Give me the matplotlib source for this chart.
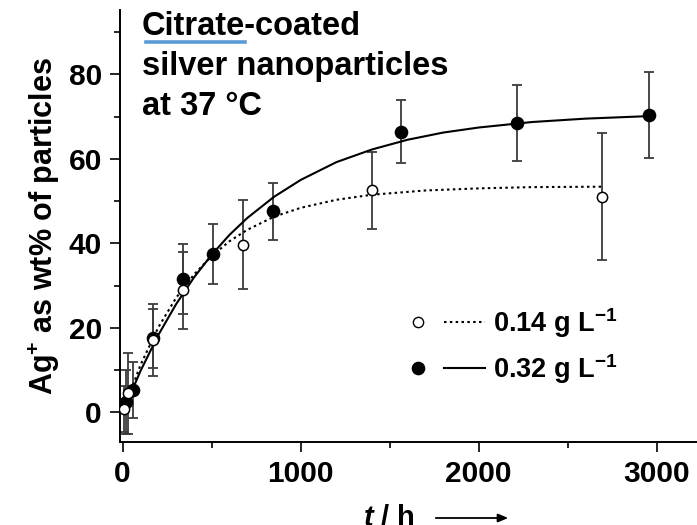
import matplotlib
matplotlib.use('Agg')
import matplotlib.pyplot as plt
from matplotlib.lines import Line2D
from matplotlib.patches import FancyArrowPatch
from matplotlib.legend_handler import HandlerTuple

plt.rcParams['font.family'] = ['Liberation Sans', 'DejaVu Sans']
plt.rcParams['font.weight'] = 'bold'
plt.rcParams['mathtext.fontset'] = 'custom'
plt.rcParams['mathtext.rm'] = 'Liberation Sans:bold'
plt.rcParams['mathtext.bf'] = 'Liberation Sans:bold'
plt.rcParams['mathtext.it'] = 'Liberation Sans:italic:bold'
plt.rcParams['mathtext.bfit'] = 'Liberation Sans:italic:bold'

# ---- data ----
# 0.32 g/L (filled circles)
t_hi = [18, 60, 172, 337, 509, 843, 1562, 2213, 2957]
ag_hi = [2.5, 5.3, 17.5, 31.6, 37.4, 47.6, 66.4, 68.4, 70.3]
err_hi = [7.5, 6.7, 7.0, 8.3, 7.1, 6.7, 7.4, 9.0, 10.2]

# 0.14 g/L (open circles)
t_lo = [5, 30, 172, 337, 678, 1399, 2691]
ag_lo = [0.8, 4.5, 17.1, 28.9, 39.7, 52.5, 51.0]
err_lo = [5.5, 9.5, 8.6, 9.1, 10.6, 9.2, 15.0]

# fitted curves
fit_t_hi = [0, 100, 200, 300, 400, 500, 600, 700, 850, 1000, 1200, 1400,
            1600, 1800, 2000, 2300, 2600, 2957]
fit_hi = [0, 9.8, 18.3, 25.6, 31.9, 37.3, 42.0, 46.0, 51.0, 55.0, 59.2, 62.2,
          64.5, 66.2, 67.4, 68.7, 69.5, 70.1]
fit_t_lo = [0, 100, 200, 300, 400, 500, 600, 700, 850, 1000, 1200, 1400,
            1700, 2000, 2300, 2691]
fit_lo = [0, 11.2, 20.1, 27.1, 32.6, 37.0, 40.5, 43.2, 46.3, 48.4, 50.3, 51.5,
          52.5, 53.0, 53.3, 53.4]

labels = [r'0.14 g L$^{\mathbf{-1}}$', r'0.32 g L$^{\mathbf{-1}}$']
title_lines = ['Citrate-coated', 'silver nanoparticles', 'at 37 °C']

W, H = 697, 525
fig = plt.figure(figsize=(W / 100, H / 100), dpi=100)
ax = fig.add_axes([120 / W, 1 - 442 / H, 1 - 120 / W, (442 - 10) / H])

ebc = '#3c3c3c'
ax.errorbar(t_hi, ag_hi, yerr=err_hi, fmt='none', ecolor=ebc, elinewidth=1.3,
            capsize=3.6, capthick=1.3, zorder=2)
ax.errorbar(t_lo, ag_lo, yerr=err_lo, fmt='none', ecolor=ebc, elinewidth=1.3,
            capsize=3.6, capthick=1.3, zorder=2)
ax.plot(fit_t_lo, fit_lo, color='black', lw=1.5, ls=(0, (1.2, 1.6)), zorder=3)
ax.plot(fit_t_hi, fit_hi, color='black', lw=1.5, zorder=3)
ax.plot(t_hi, ag_hi, 'o', ms=8.8, mfc='black', mec='black', zorder=4)
ax.plot(t_lo, ag_lo, 'o', ms=7.4, mfc='white', mec='black', mew=1.1, zorder=5)

ax.set_xlim(-15, 3226)
ax.set_ylim(-7, 95.2)
ax.set_xticks([0, 1000, 2000, 3000])
ax.set_xticks([500, 1500, 2500], minor=True)
ax.set_yticks([0, 20, 40, 60, 80])
ax.set_yticks([10, 30, 50, 70, 90], minor=True)
for s in ['top', 'right']:
    ax.spines[s].set_visible(False)
for s in ['left', 'bottom']:
    ax.spines[s].set_linewidth(1.4)
ax.tick_params(which='major', direction='out', length=7, width=1.2,
               labelsize=21.5, pad=6)
ax.tick_params(which='minor', direction='out', length=4, width=1.2)
ax.set_ylabel(r'Ag$^{\mathbf{+}}$ as wt% of particles', fontsize=22,
              fontweight='bold', labelpad=5)

# x label with arrow
fig.text(363 / W, 1 - 526 / H, r'$\mathbfit{t}$ / h', fontsize=21,
         fontweight='bold', ha='left', va='baseline')
fig.add_artist(FancyArrowPatch(
    (433 / W, 1 - 518 / H), (511 / W, 1 - 518 / H), transform=fig.transFigure,
    arrowstyle='-|>,head_length=6,head_width=2.5', lw=1.3, color='black'))

# title block
base = [35, 75, 115]
for line, b in zip(title_lines, base):
    fig.text(141.5 / W, 1 - b / H, line, fontsize=23.5, fontweight='bold',
             ha='left', va='baseline')
fig.canvas.draw()
r = fig.canvas.get_renderer()
tmp = fig.text(141.5 / W, 1 - 35 / H, 'Citrate', fontsize=23.5,
               fontweight='bold', ha='left', va='baseline')
bb = tmp.get_window_extent(r)
tmp.remove()
uy = 1 - 42 / H
fig.add_artist(Line2D([bb.x0 / W + 4 / W, bb.x1 / W], [uy, uy],
                      transform=fig.transFigure, color='#5b9bd5', lw=2.6))

# legend: marker, gap, line sample
h_lo = (Line2D([], [], ls='none', marker='o', ms=7.4, mfc='white', mec='black'),
        Line2D([], [], color='black', lw=1.5, ls=(0, (1.2, 1.6))))
h_hi = (Line2D([], [], ls='none', marker='o', ms=8.8, mfc='black', mec='black'),
        Line2D([], [], color='black', lw=1.5))
fig.legend([h_lo, h_hi], labels, handler_map={tuple: HandlerTuple(ndivide=None, pad=0.2)},
           loc='upper left', bbox_to_anchor=(398 / W, 1 - 306 / H),
           frameon=False, fontsize=19.5, handlelength=3.2, handletextpad=0.3,
           borderpad=0, borderaxespad=0, labelspacing=0.45,
           prop={'weight': 'bold', 'size': 19.5})

fig.savefig('out.png', dpi=100)
